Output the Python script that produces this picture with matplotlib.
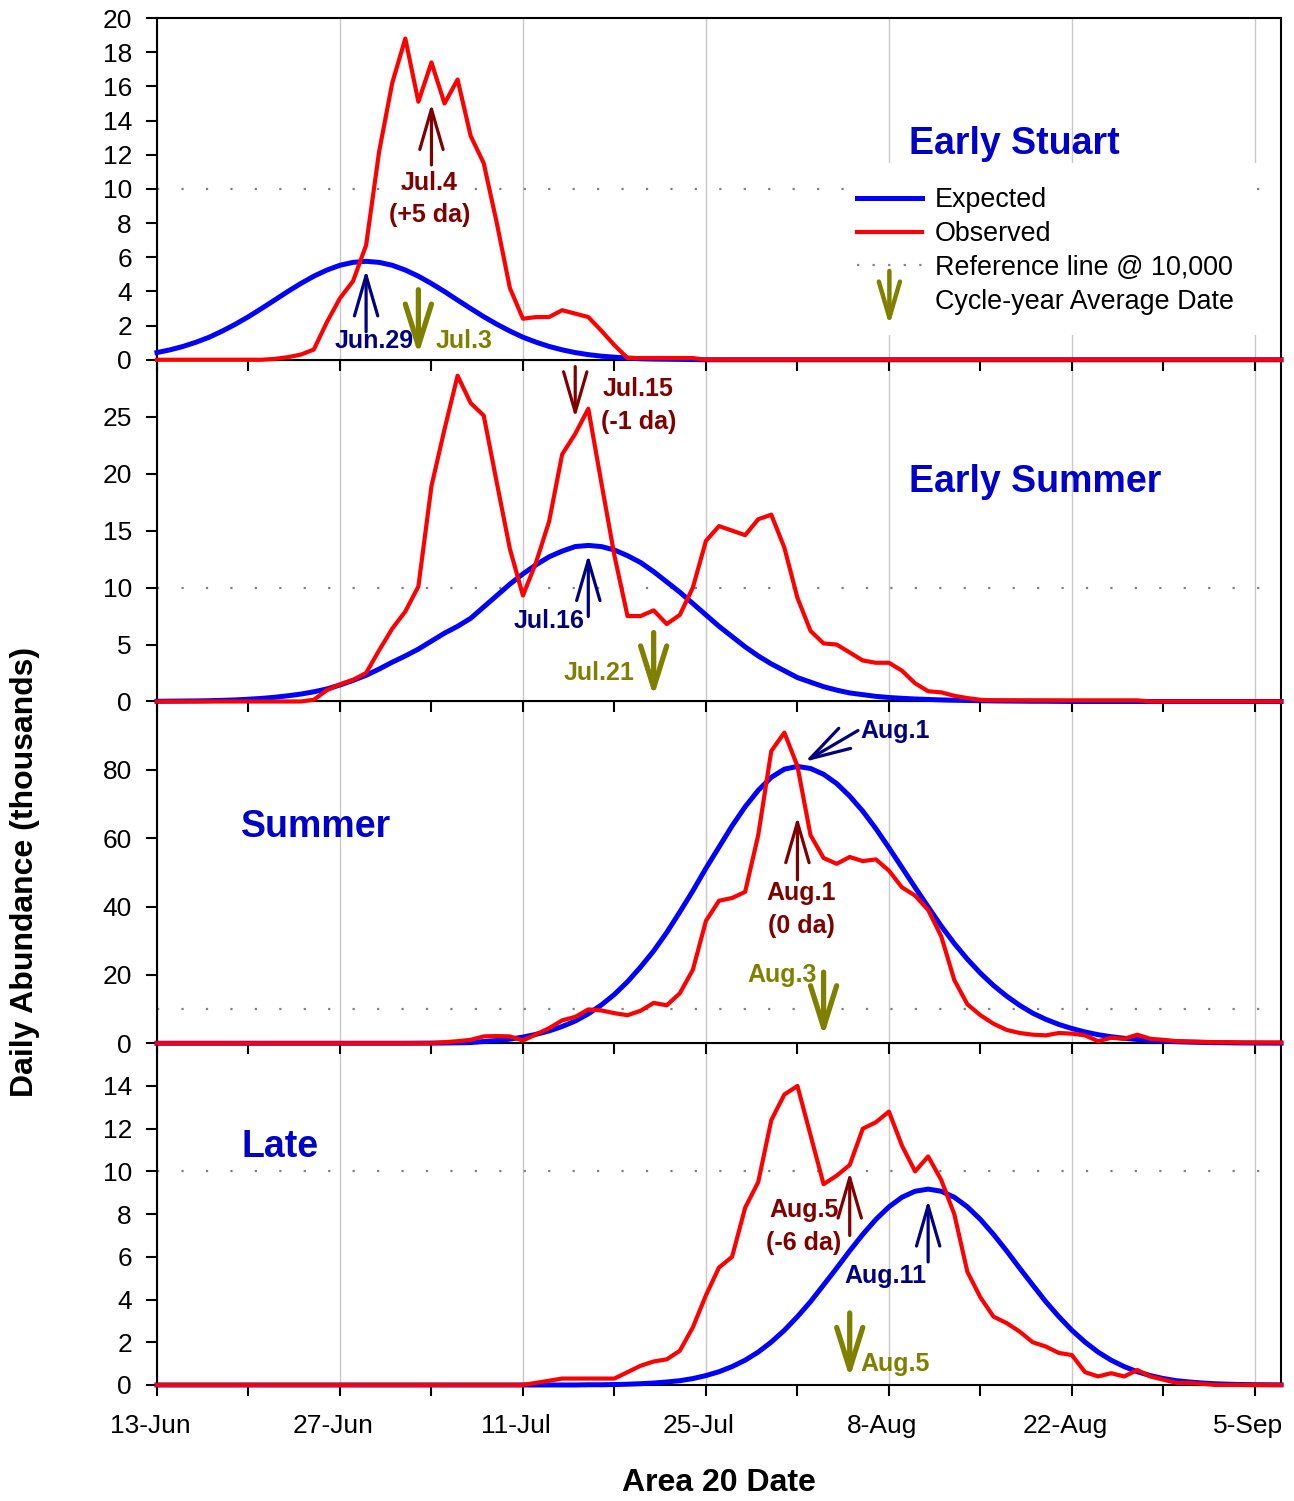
import matplotlib
matplotlib.use("Agg")
import matplotlib.pyplot as plt
import numpy as np
from matplotlib.lines import Line2D
from matplotlib.patches import FancyArrowPatch, Rectangle
from matplotlib.legend_handler import HandlerBase
from matplotlib.transforms import ScaledTranslation

plt.rcParams['font.family'] = ['Liberation Sans', 'DejaVu Sans']

# day 0 = 13-Jun, one value per day (thousands of fish)
date_ticks = [0, 14, 28, 42, 56, 70, 84]
date_labels = ['13-Jun', '27-Jun', '11-Jul', '25-Jul', '8-Aug', '22-Aug', '5-Sep']

es_expected = [0.42, 0.58, 0.78, 1.03, 1.32, 1.68, 2.08, 2.52, 3.0, 3.49,
               3.99, 4.46, 4.89, 5.25, 5.53, 5.70, 5.76, 5.70, 5.53, 5.25,
               4.89, 4.46, 3.99, 3.49, 3.0, 2.52, 2.08, 1.68, 1.32, 1.03,
               0.78, 0.58, 0.42, 0.30, 0.21, 0.15, 0.10, 0.06, 0.04, 0.03,
               0.02, 0.01] + [0.0] * 45
es_observed = [0.0] * 9 + [0.05, 0.15, 0.3, 0.6, 2.2, 3.6, 4.6, 6.7, 12.2, 16.2,
                           18.8, 15.1, 17.4, 15.0, 16.4, 13.1, 11.5, 8.0, 4.2, 2.4,
                           2.5, 2.5, 2.9, 2.7, 2.5, 1.7, 0.85, 0.1, 0.1, 0.1,
                           0.1, 0.1, 0.1] + [0.0] * 45

esu_expected = [0.02, 0.03, 0.04, 0.05, 0.07, 0.1, 0.14, 0.2, 0.27, 0.37,
                0.5, 0.65, 0.85, 1.1, 1.45, 1.85, 2.3, 2.85, 3.45, 4.0,
                4.6, 5.3, 6.0, 6.6, 7.3, 8.3, 9.3, 10.3, 11.2, 12.0,
                12.7, 13.2, 13.6, 13.7, 13.6, 13.3, 12.8, 12.2, 11.4, 10.5,
                9.6, 8.6, 7.6, 6.6, 5.7, 4.8, 4.0, 3.3, 2.7, 2.1,
                1.7, 1.3, 1.0, 0.75, 0.6, 0.45, 0.35, 0.28, 0.22, 0.18,
                0.14, 0.11, 0.09, 0.07, 0.05, 0.04, 0.03, 0.02, 0.02, 0.01] + [0.0] * 17
esu_observed = [0.0] * 12 + [0.15, 1.0, 1.5, 1.9, 2.5, 4.5, 6.4, 7.9, 10.1, 18.9,
                             23.9, 28.6, 26.2, 25.1, 19.2, 13.4, 9.3, 12.2, 15.8, 21.7,
                             23.5, 25.7, 19.2, 12.8, 7.5, 7.5, 8.0, 6.8, 7.6, 10.0,
                             14.1, 15.4, 15.0, 14.6, 16.0, 16.4, 13.5, 9.1, 6.2, 5.1,
                             5.0, 4.3, 3.6, 3.4, 3.4, 2.7, 1.6, 0.9, 0.8, 0.5,
                             0.3, 0.15] + [0.1] * 12 + [0.0] * 11

su_expected = [0.0] * 20 + [0.02, 0.04, 0.07, 0.12, 0.2, 0.5, 0.8, 1.2, 1.8, 2.6,
                            3.6, 4.9, 6.5, 8.6, 11.2, 14.3, 18.0, 22.3, 27.0, 32.4,
                            38.4, 44.6, 51.2, 57.4, 63.6, 69.2, 74.0, 77.8, 80.2, 81.0,
                            80.4, 78.7, 76.0, 72.3, 67.9, 62.8, 57.2, 51.4, 45.6, 39.9,
                            34.3, 29.2, 24.6, 20.5, 16.9, 13.8, 11.1, 8.8, 7.0, 5.5,
                            4.3, 3.3, 2.5, 1.9, 1.45, 1.1, 0.8, 0.6, 0.45, 0.33,
                            0.24, 0.17, 0.12, 0.08, 0.06, 0.04, 0.03]
su_observed = [0.0] * 22 + [0.3, 0.6, 1.0, 2.0, 2.1, 2.0, 0.8, 2.6, 4.4, 6.7,
                            7.7, 9.9, 9.6, 8.8, 8.2, 9.5, 11.8, 11.1, 14.6, 21.5,
                            35.8, 41.7, 42.5, 44.3, 60.9, 85.5, 90.9, 81.1, 60.9, 54.2,
                            52.5, 54.5, 53.3, 53.8, 50.5, 45.6, 43.2, 39.0, 31.3, 18.5,
                            11.4, 8.2, 5.7, 3.9, 3.0, 2.5, 2.3, 3.0, 2.8, 2.3,
                            0.6, 1.6, 1.3, 2.5, 1.3, 1.0, 0.6, 0.5, 0.4, 0.3,
                            0.3, 0.2, 0.2, 0.2, 0.2]

late_expected = [0.0] * 33 + [0.01, 0.01, 0.02, 0.035, 0.06, 0.09, 0.14, 0.2, 0.3, 0.44,
                              0.62, 0.86, 1.16, 1.54, 2.01, 2.56, 3.2, 3.9, 4.68, 5.47,
                              6.28, 7.05, 7.75, 8.34, 8.79, 9.07, 9.17, 9.07, 8.79, 8.34,
                              7.75, 7.05, 6.28, 5.47, 4.68, 3.9, 3.2, 2.56, 2.01, 1.54,
                              1.16, 0.86, 0.62, 0.44, 0.3, 0.2, 0.14, 0.09, 0.056, 0.035,
                              0.02, 0.013, 0.008, 0.005]
late_observed = [0.0] * 29 + [0.1, 0.2, 0.3, 0.3, 0.3, 0.3, 0.3, 0.6, 0.9, 1.1,
                              1.2, 1.6, 2.7, 4.2, 5.5, 6.0, 8.3, 9.5, 12.4, 13.6,
                              14.0, 11.7, 9.4, 9.8, 10.3, 12.0, 12.3, 12.8, 11.2, 10.0,
                              10.7, 9.6, 8.0, 5.3, 4.1, 3.2, 2.9, 2.5, 2.0, 1.8,
                              1.5, 1.4, 0.6, 0.4, 0.55, 0.4, 0.7, 0.4, 0.25, 0.1,
                              0.1, 0.05] + [0.0] * 6

run_names = ['Early Stuart', 'Early Summer', 'Summer', 'Late']
y_max = [20, 30, 100, 16]
y_top_label = [20, 25, 80, 14]
y_step = [2, 5, 20, 2]
ref_level = 10

NAVY = '#000080'
MAROON = '#800000'
OLIVE = '#808000'
TITLE_BLUE = '#0000CC'
REF_STYLE = (0, (1, 10))


class ArrowHandler(HandlerBase):
    def create_artists(self, legend, orig_handle, xdescent, ydescent,
                       width, height, fontsize, trans):
        xc = width / 2 - xdescent
        a = FancyArrowPatch((xc, height * 2.0), (xc, -height * 0.9),
                            arrowstyle='->,head_length=1.3,head_width=0.38',
                            mutation_scale=20, lw=3.2, color=OLIVE,
                            shrinkA=0, shrinkB=0, transform=trans)
        return [a]


def arrow(ax, x0, y0, x1, y1, color, lw=2.3, hl=1.45, hw=0.42):
    ax.annotate('', xy=(x1, y1), xytext=(x0, y0), zorder=6,
                arrowprops=dict(arrowstyle=f'->,head_length={hl},head_width={hw}',
                                color=color, lw=lw, shrinkA=0, shrinkB=0,
                                mutation_scale=20))


def label(ax, x, y, s, color, ha='center'):
    ax.text(x, y, s, color=color, fontsize=18, fontweight='bold',
            ha=ha, va='center', zorder=7)


fig, axes = plt.subplots(4, 1, figsize=(12.94, 15.01), dpi=100, sharex=True)
fig.subplots_adjust(left=0.1213, right=0.99, top=0.988, bottom=0.0773, hspace=0)

expected = [es_expected, esu_expected, su_expected, late_expected]
observed = [es_observed, esu_observed, su_observed, late_observed]

for i, ax in enumerate(axes):
    ax.set_zorder(10 - i)
    ax.plot(np.arange(len(expected[i])), expected[i], color='#0000FF', lw=3.6,
            zorder=3, clip_on=False)
    ax.plot(np.arange(len(observed[i])), observed[i], color='#FF0000', lw=3.0,
            zorder=4, clip_on=False)
    ax.axhline(ref_level, color='#808080', lw=1.6, ls=REF_STYLE, zorder=2)
    ax.set_xlim(0, 86)
    ax.set_ylim(0, y_max[i])
    ax.set_yticks(np.arange(0, y_top_label[i] + 1, y_step[i]))
    ax.set_xticks(date_ticks, date_labels)
    ax.set_xticks(range(7, 86, 14), minor=True)
    ax.grid(axis='x', which='major', color='#C8C8C8', lw=1)
    ax.tick_params(axis='both', which='both', direction='out', length=8,
                   width=1.5, labelsize=19)
    ax.tick_params(axis='x', pad=13)
    ax.tick_params(axis='y', pad=10)
    for sp in ax.spines.values():
        sp.set_linewidth(1.5)

# date labels sit a little left of their ticks
shift = ScaledTranslation(-0.07, 0, fig.dpi_scale_trans)
for t in axes[-1].get_xticklabels():
    t.set_transform(t.get_transform() + shift)

# Early Stuart
ax = axes[0]
ax.text(57.5, 12.6, run_names[0], color=TITLE_BLUE, fontsize=27,
        fontweight='bold', ha='left', va='center')
arrow(ax, 21, 11.4, 21, 15.0, MAROON)
label(ax, 20.85, 10.35, 'Jul.4', MAROON)
label(ax, 20.9, 8.48, '(+5 da)', MAROON)
arrow(ax, 16, 1.64, 16, 5.26, NAVY)
label(ax, 16.6, 1.1, 'Jun.29', NAVY)
arrow(ax, 20, 4.1, 20, 0.3, OLIVE, lw=3.8, hl=1.5, hw=0.47)
label(ax, 21.35, 1.1, 'Jul.3', OLIVE, ha='left')

# white panel behind the legend
ax.add_patch(Rectangle((0.621, 0.073), 0.358, 0.503, transform=ax.transAxes,
                       facecolor='white', edgecolor='none', zorder=4.5))
avg_handle = Line2D([], [], color=OLIVE)
handles = [Line2D([], [], color='#0000FF', lw=3.6),
           Line2D([], [], color='#FF0000', lw=3.0),
           Line2D([], [], color='#808080', lw=1.6, ls=(0, (1, 6))),
           avg_handle]
labels = ['Expected', 'Observed', 'Reference line @ 10,000', 'Cycle-year Average Date']
leg = ax.legend(handles, labels, loc='upper left', bbox_to_anchor=(0.6228, 0.505),
                fontsize=19.4, frameon=False, handlelength=2.4,
                handletextpad=0.5, labelspacing=0.29, borderpad=0,
                borderaxespad=0, handler_map={avg_handle: ArrowHandler()})
leg.set_zorder(6)

# Early Summer
ax = axes[1]
ax.text(57.5, 19.3, run_names[1], color=TITLE_BLUE, fontsize=27,
        fontweight='bold', ha='left', va='center')
arrow(ax, 32, 29.4, 32, 24.9, MAROON)
label(ax, 36.84, 27.46, 'Jul.15', MAROON)
label(ax, 36.84, 24.56, '(-1 da)', MAROON)
arrow(ax, 33, 7.46, 33, 12.9, NAVY)
label(ax, 30.03, 7.1, 'Jul.16', NAVY)
arrow(ax, 38, 6.05, 38, 0.44, OLIVE, lw=3.8, hl=1.5, hw=0.47)
label(ax, 33.8, 2.54, 'Jul.21', OLIVE)

# Summer
ax = axes[2]
ax.text(6.43, 63.3, run_names[2], color=TITLE_BLUE, fontsize=27,
        fontweight='bold', ha='left', va='center')
arrow(ax, 53.63, 91.5, 49.58, 82.4, NAVY)
label(ax, 53.8, 91.5, 'Aug.1', NAVY, ha='left')
arrow(ax, 49, 47.8, 49, 66.3, MAROON)
label(ax, 49.3, 44.0, 'Aug.1', MAROON)
label(ax, 49.3, 34.3, '(0 da)', MAROON)
arrow(ax, 51, 20.8, 51, 2.05, OLIVE, lw=3.8, hl=1.5, hw=0.47)
label(ax, 47.86, 19.9, 'Aug.3', OLIVE)

# Late
ax = axes[3]
ax.text(6.43, 11.14, run_names[3], color=TITLE_BLUE, fontsize=27,
        fontweight='bold', ha='left', va='center')
arrow(ax, 53, 7.0, 53, 9.97, MAROON)
label(ax, 49.5, 8.19, 'Aug.5', MAROON)
label(ax, 49.5, 6.65, '(-6 da)', MAROON)
arrow(ax, 59, 5.76, 59, 8.66, NAVY)
label(ax, 55.7, 5.1, 'Aug.11', NAVY)
arrow(ax, 53, 3.37, 53, 0.33, OLIVE, lw=3.8, hl=1.5, hw=0.47)
label(ax, 56.5, 0.98, 'Aug.5', OLIVE)

fig.text(0.019, 0.419, 'Daily Abundance (thousands)', rotation=90, ha='center',
         va='center', fontsize=23, fontweight='bold')
fig.text(0.5557, 0.012, 'Area 20 Date', ha='center', va='center',
         fontsize=23, fontweight='bold')

fig.savefig('out.png', dpi=100)
